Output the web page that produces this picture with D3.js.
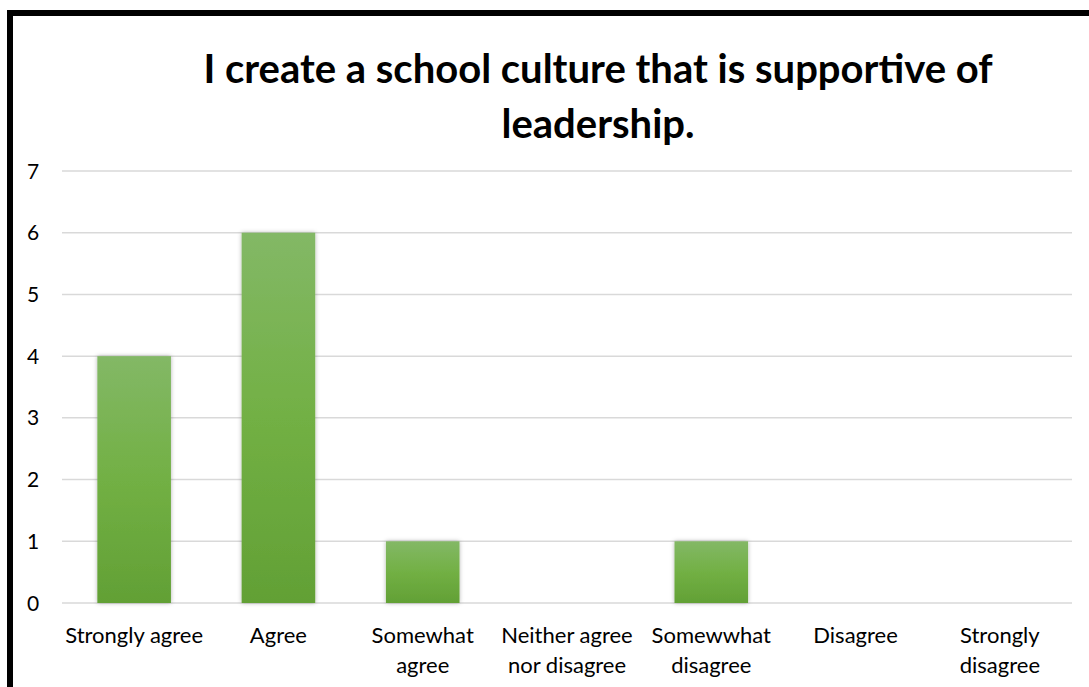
<!DOCTYPE html>
<html>
<head>
    <meta charset="utf-8">
    <title>School culture</title>
    <style>
        body { margin: 0; background: white; font-family: Lato, "Open Sans", sans-serif; }
    </style>
</head>
<body>
    <div id="chart"></div>
    <script src="https://d3js.org/d3.v7.min.js"></script>
    <script>
    // Data
    const categories = [
        ["Strongly agree"],
        ["Agree"],
        ["Somewhat", "agree"],
        ["Neither agree", "nor disagree"],
        ["Somewwhat", "disagree"],
        ["Disagree"],
        ["Strongly", "disagree"]
    ];
    const values = [4, 6, 1, 0, 1, 0, 0];
    const yTicks = [0, 1, 2, 3, 4, 5, 6, 7];
    const titleLines = ["I create a school culture that is supportive of", "leadership."];

    const W = 1089, H = 687;
    const margin = {top: 171, right: 17, bottom: 84, left: 62};
    const width = W - margin.left - margin.right;
    const height = H - margin.top - margin.bottom;

    const svg = d3.select("#chart").append("svg")
        .attr("width", W)
        .attr("height", H);

    const defs = svg.append("defs");
    const grad = defs.append("linearGradient")
        .attr("id", "barGrad")
        .attr("x1", 0).attr("y1", 0).attr("x2", 0).attr("y2", 1);
    grad.append("stop").attr("offset", "0%").attr("stop-color", "#83b866");
    grad.append("stop").attr("offset", "50%").attr("stop-color", "#72b044");
    grad.append("stop").attr("offset", "100%").attr("stop-color", "#62a035");

    const shadow = defs.append("filter").attr("id", "shadow")
        .attr("x", "-20%").attr("y", "-20%").attr("width", "140%").attr("height", "140%");
    shadow.append("feDropShadow")
        .attr("dx", 0).attr("dy", 0).attr("stdDeviation", 2)
        .attr("flood-color", "#000").attr("flood-opacity", 0.3);

    // outer frame (only top and left edges are inside the picture)
    svg.append("rect")
        .attr("x", 10).attr("y", 13)
        .attr("width", W + 20).attr("height", H + 20)
        .attr("fill", "none")
        .attr("stroke", "#000")
        .attr("stroke-width", 6);

    const g = svg.append("g")
        .attr("transform", `translate(${margin.left},${margin.top})`);

    const x = d3.scaleBand()
        .domain(d3.range(categories.length))
        .range([0, width])
        .paddingInner(0.49)
        .paddingOuter(0.245);

    const y = d3.scaleLinear()
        .domain([0, 7])
        .range([height, 0]);

    // gridlines
    g.selectAll(".grid")
        .data(yTicks)
        .enter().append("line")
        .attr("x1", 0).attr("x2", width)
        .attr("y1", d => y(d)).attr("y2", d => y(d))
        .attr("stroke", "#d9d9d9")
        .attr("stroke-width", 1.5);

    // y labels
    g.selectAll(".ylab")
        .data(yTicks)
        .enter().append("text")
        .attr("x", -29)
        .attr("y", d => y(d))
        .attr("dy", "0.36em")
        .attr("text-anchor", "middle")
        .style("font-size", "21px")
        .attr("fill", "#000")
        .text(d => d);

    // bars
    g.selectAll(".bar")
        .data(values)
        .enter().append("rect")
        .attr("x", (d, i) => x(i))
        .attr("y", d => y(d))
        .attr("width", x.bandwidth())
        .attr("height", d => height - y(d))
        .attr("fill", "url(#barGrad)")
        .attr("filter", "url(#shadow)")
        .style("display", d => d > 0 ? null : "none");

    // category labels
    const step = width / categories.length;
    const catLab = g.selectAll(".cat")
        .data(categories)
        .enter().append("text")
        .attr("text-anchor", "middle")
        .attr("x", (d, i) => step * (i + 0.5))
        .attr("y", height + 40)
        .style("font-size", "22px")
        .attr("fill", "#000");
    catLab.selectAll("tspan")
        .data(d => d)
        .enter().append("tspan")
        .attr("x", function() { return d3.select(this.parentNode).attr("x"); })
        .attr("dy", (d, i) => i === 0 ? 0 : 30)
        .text(d => d);

    // title
    svg.selectAll(".title")
        .data(titleLines)
        .enter().append("text")
        .attr("x", 598)
        .attr("y", (d, i) => 83 + i * 55)
        .attr("text-anchor", "middle")
        .style("font-size", "40px")
        .style("font-weight", "bold")
        .attr("fill", "#000")
        .text(d => d);
    </script>
</body>
</html>
